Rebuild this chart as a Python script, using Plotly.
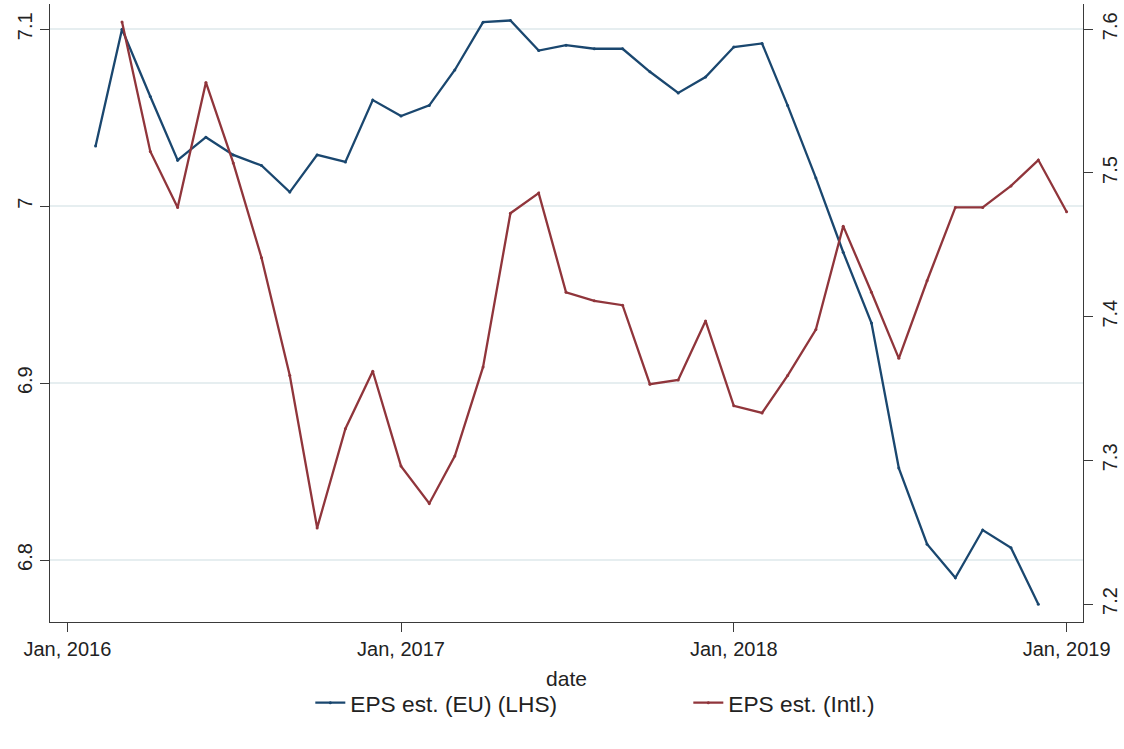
import plotly.graph_objects as go

# ---- data (monthly) ----
eu_dates = [
    "2016-02-01", "2016-03-01", "2016-04-01", "2016-05-01", "2016-06-01", "2016-07-01",
    "2016-08-01", "2016-09-01", "2016-10-01", "2016-11-01", "2016-12-01",
    "2017-01-01", "2017-02-01", "2017-03-01", "2017-04-01", "2017-05-01", "2017-06-01",
    "2017-07-01", "2017-08-01", "2017-09-01", "2017-10-01", "2017-11-01", "2017-12-01",
    "2018-01-01", "2018-02-01", "2018-03-01", "2018-04-01", "2018-05-01", "2018-06-01",
    "2018-07-01", "2018-08-01", "2018-09-01", "2018-10-01", "2018-11-01", "2018-12-01",
]
eu_values = [
    7.034, 7.100, 7.062, 7.026, 7.039, 7.029, 7.023, 7.008, 7.029, 7.025, 7.060,
    7.051, 7.057, 7.077, 7.104, 7.105, 7.088, 7.091, 7.089, 7.089, 7.076, 7.064, 7.073,
    7.090, 7.092, 7.057, 7.016, 6.974, 6.934, 6.852, 6.809, 6.790, 6.817, 6.807, 6.775,
]

intl_dates = [
    "2016-03-01", "2016-04-01", "2016-05-01", "2016-06-01", "2016-07-01",
    "2016-08-01", "2016-09-01", "2016-10-01", "2016-11-01", "2016-12-01",
    "2017-01-01", "2017-02-01", "2017-03-01", "2017-04-01", "2017-05-01", "2017-06-01",
    "2017-07-01", "2017-08-01", "2017-09-01", "2017-10-01", "2017-11-01", "2017-12-01",
    "2018-01-01", "2018-02-01", "2018-03-01", "2018-04-01", "2018-05-01", "2018-06-01",
    "2018-07-01", "2018-08-01", "2018-09-01", "2018-10-01", "2018-11-01", "2018-12-01",
    "2019-01-01",
]
intl_values = [
    7.605, 7.515, 7.476, 7.563, 7.507, 7.441, 7.359, 7.253, 7.322, 7.362,
    7.296, 7.270, 7.303, 7.365, 7.472, 7.486, 7.417, 7.411, 7.408, 7.353, 7.356, 7.397,
    7.338, 7.333, 7.359, 7.391, 7.463, 7.417, 7.371, 7.425, 7.476, 7.476, 7.491, 7.509,
    7.473,
]

x_tick_dates = ["2016-01-01", "2017-01-01", "2018-01-01", "2019-01-01"]
x_tick_labels = ["Jan, 2016", "Jan, 2017", "Jan, 2018", "Jan, 2019"]
left_ticks = [6.8, 6.9, 7.0, 7.1]
left_tick_labels = ["6.8", "6.9", "7", "7.1"]
right_ticks = [7.2, 7.3, 7.4, 7.5, 7.6]
right_tick_labels = ["7.2", "7.3", "7.4", "7.5", "7.6"]

NAVY = "#1a476f"
MAROON = "#90353b"
AXIS = "#3a3a3a"
FONT = "Liberation Sans, Arial, Helvetica, sans-serif"

fig = go.Figure()
fig.add_trace(go.Scatter(
    x=eu_dates, y=eu_values, name="EPS est. (EU) (LHS)", mode="lines+markers",
    line=dict(color=NAVY, width=2.3), marker=dict(color=NAVY, size=3),
    yaxis="y",
))
fig.add_trace(go.Scatter(
    x=intl_dates, y=intl_values, name="EPS est. (Intl.)", mode="lines+markers",
    line=dict(color=MAROON, width=2.3), marker=dict(color=MAROON, size=3),
    yaxis="y2",
))

fig.update_layout(
    width=1124, height=749,
    margin=dict(l=50, r=41, t=4, b=127, autoexpand=False),
    paper_bgcolor="white", plot_bgcolor="white",
    font=dict(family=FONT, size=20, color="#222"),
    showlegend=True,
    legend=dict(orientation="h", x=0.252, xanchor="left", y=-0.131, yanchor="middle",
                font=dict(size=22.7), entrywidth=333, entrywidthmode="pixels",
                bgcolor="rgba(0,0,0,0)"),
    xaxis=dict(
        type="date", range=["2015-12-13", "2019-01-19"],
        tickvals=x_tick_dates, ticktext=x_tick_labels,
        ticks="outside", ticklen=9, tickcolor=AXIS, tickwidth=1.3,
        showline=True, linecolor=AXIS, linewidth=1.3,
        showgrid=False, zeroline=False,
        tickfont=dict(size=20),
        title=dict(text="date", font=dict(size=21), standoff=12),
    ),
    yaxis=dict(
        range=[6.765, 7.1143],
        tickvals=left_ticks, ticktext=left_tick_labels, tickangle=-90,
        ticks="outside", ticklen=9, tickcolor=AXIS, tickwidth=1.3,
        showline=True, linecolor=AXIS, linewidth=1.3,
        showgrid=True, gridcolor="#e6eef0", gridwidth=1.5, zeroline=False,
        tickfont=dict(size=20),
    ),
    yaxis2=dict(
        overlaying="y", side="right",
        range=[7.1875, 7.6176],
        tickvals=right_ticks, ticktext=right_tick_labels, tickangle=-90,
        ticks="outside", ticklen=9, tickcolor=AXIS, tickwidth=1.3,
        showline=True, linecolor=AXIS, linewidth=1.3,
        showgrid=False, zeroline=False,
        tickfont=dict(size=20),
    ),
)

fig.write_html("out.html")
